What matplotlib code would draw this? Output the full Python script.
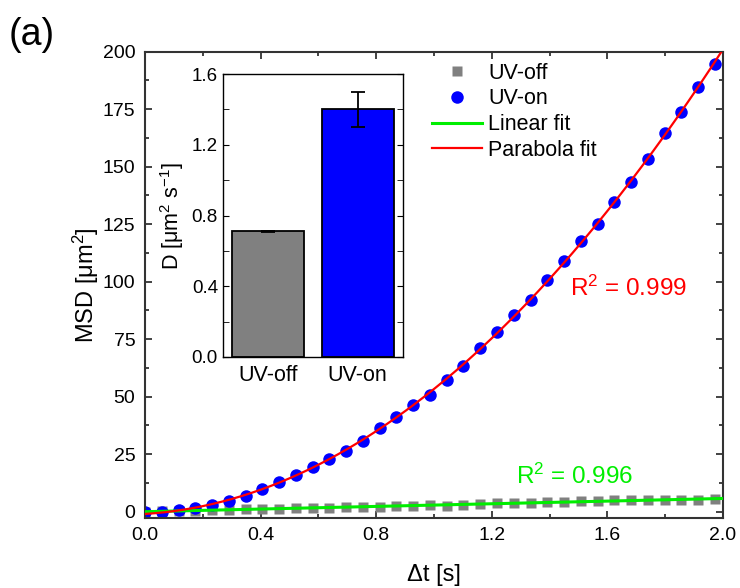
# MSD vs lag time for UV-off / UV-on, with inset bar chart of D.
import numpy as np
import matplotlib
matplotlib.use("Agg")
import matplotlib.pyplot as plt
from matplotlib.ticker import MultipleLocator

plt.rcParams['font.family'] = ['Liberation Sans', 'DejaVu Sans']
plt.rcParams['mathtext.fontset'] = 'custom'
plt.rcParams['mathtext.rm'] = 'Liberation Sans'
plt.rcParams['mathtext.it'] = 'Liberation Sans:italic'

# lag times [s]
t = [0.000, 0.058, 0.116, 0.174, 0.232, 0.290, 0.348, 0.406, 0.464, 0.522,
     0.580, 0.638, 0.696, 0.754, 0.812, 0.870, 0.928, 0.986, 1.044, 1.102,
     1.160, 1.218, 1.276, 1.334, 1.392, 1.450, 1.508, 1.566, 1.624, 1.682,
     1.740, 1.798, 1.856, 1.914, 1.972]
# MSD [um^2]
msd_on = [0.0, -0.3, 0.7, 1.6, 2.8, 4.7, 6.8, 9.7, 12.8, 16.1,
          19.6, 23.0, 26.6, 30.9, 36.3, 41.3, 46.3, 50.9, 57.1, 63.4,
          71.0, 78.0, 85.7, 92.2, 100.7, 109.2, 117.6, 124.9, 134.6, 143.5,
          153.2, 164.8, 173.8, 184.7, 194.6]
msd_off = [0.0, 0.1, 0.3, 0.5, 0.6, 0.8, 1.0, 1.1, 1.3, 1.4,
           1.6, 1.7, 1.9, 2.0, 2.2, 2.4, 2.6, 2.8, 2.6, 3.0,
           3.3, 3.7, 3.8, 3.9, 4.0, 4.4, 4.6, 4.7, 4.9, 5.0,
           5.1, 5.2, 5.2, 5.3, 5.5]

# inset: diffusion coefficients
cond = ['UV-off', 'UV-on']
D = [0.71, 1.40]
D_err = [0.005, 0.10]

t_arr = np.array(t)
on_arr = np.array(msd_on)
off_arr = np.array(msd_off)
p2 = np.polyfit(t_arr, on_arr, 2)
slope = np.sum(t_arr * off_arr) / np.sum(t_arr * t_arr)
t_fit = np.linspace(0, 2.0, 300)

fig = plt.figure(figsize=(7.4, 5.88), dpi=100)
ax = fig.add_axes([0.196, 0.1196, 0.781, 0.7925])

ax.plot(t, msd_off, 's', color='#808080', ms=7, mec='none', label='UV-off', zorder=2)
ax.plot(t, msd_on, 'o', color='#0000ff', ms=9, mec='none', label='UV-on', zorder=2)
ax.plot(t_fit, slope * t_fit, '-', color='#00ee00', lw=2.2, label='Linear fit', zorder=3)
ax.plot(t_fit, np.polyval(p2, t_fit), '-', color='#ff0000', lw=1.6, label='Parabola fit', zorder=3)

ax.set_xlim(0, 2.0)
ax.set_ylim(-2.6, 200)
ax.xaxis.set_major_locator(MultipleLocator(0.4))
ax.xaxis.set_minor_locator(MultipleLocator(0.2))
ax.yaxis.set_major_locator(MultipleLocator(25))
ax.yaxis.set_minor_locator(MultipleLocator(12.5))
ax.set_xticks([0.0, 0.4, 0.8, 1.2, 1.6, 2.0])
ax.set_xticklabels(['0.0', '0.4', '0.8', '1.2', '1.6', '2.0'])
ax.tick_params(which='both', direction='in', top=True, right=True, labelsize=14, color='#222222')
ax.tick_params(which='major', length=5, width=1.2, pad=7)
ax.tick_params(which='minor', length=3, width=1.2)
for s in ax.spines.values():
    s.set_linewidth(1.5)
    s.set_color('#333333')
ax.set_xlabel('Δt [s]', fontsize=17, labelpad=14)
ax.set_ylabel('MSD [μm$^2$]', fontsize=17, labelpad=1)

ax.text(1.47, 97, 'R$^2$ = 0.999', color='#ff0000', fontsize=17.5, va='center')
ax.text(1.285, 15.5, 'R$^2$ = 0.996', color='#00ee00', fontsize=17.5, va='center')

leg = ax.legend(loc='upper left', bbox_to_anchor=(0.482, 0.995), frameon=False, fontsize=15.5,
                handlelength=2.3, labelspacing=0.22, handletextpad=0.3, borderaxespad=0)

fig.text(0.012, 0.94, '(a)', fontsize=27, va='center')

# inset bar chart
ins = fig.add_axes([0.301, 0.393, 0.243, 0.481])
ins.bar([0, 1], D, width=0.8, color=['#808080', '#0000ff'], edgecolor='black', lw=1.3,
        yerr=D_err, capsize=5, error_kw=dict(lw=1.3, capthick=1.3, ecolor='black'))
ins.set_xlim(-0.5, 1.5)
ins.set_ylim(0, 1.6)
ins.set_xticks([0, 1])
ins.set_xticklabels(cond)
ins.yaxis.set_major_locator(MultipleLocator(0.4))
ins.yaxis.set_minor_locator(MultipleLocator(0.2))
ins.tick_params(axis='y', which='both', direction='in', right=True, labelsize=13.5)
ins.tick_params(axis='y', which='major', length=4)
ins.tick_params(axis='y', which='minor', length=4)
ins.tick_params(axis='x', length=0, labelsize=15.5, pad=6)
ins.set_ylabel('D [μm$^2$ s$^{-1}$]', fontsize=15.5, labelpad=4)
for s in ins.spines.values():
    s.set_linewidth(1.0)

fig.savefig('out.png', dpi=100)
